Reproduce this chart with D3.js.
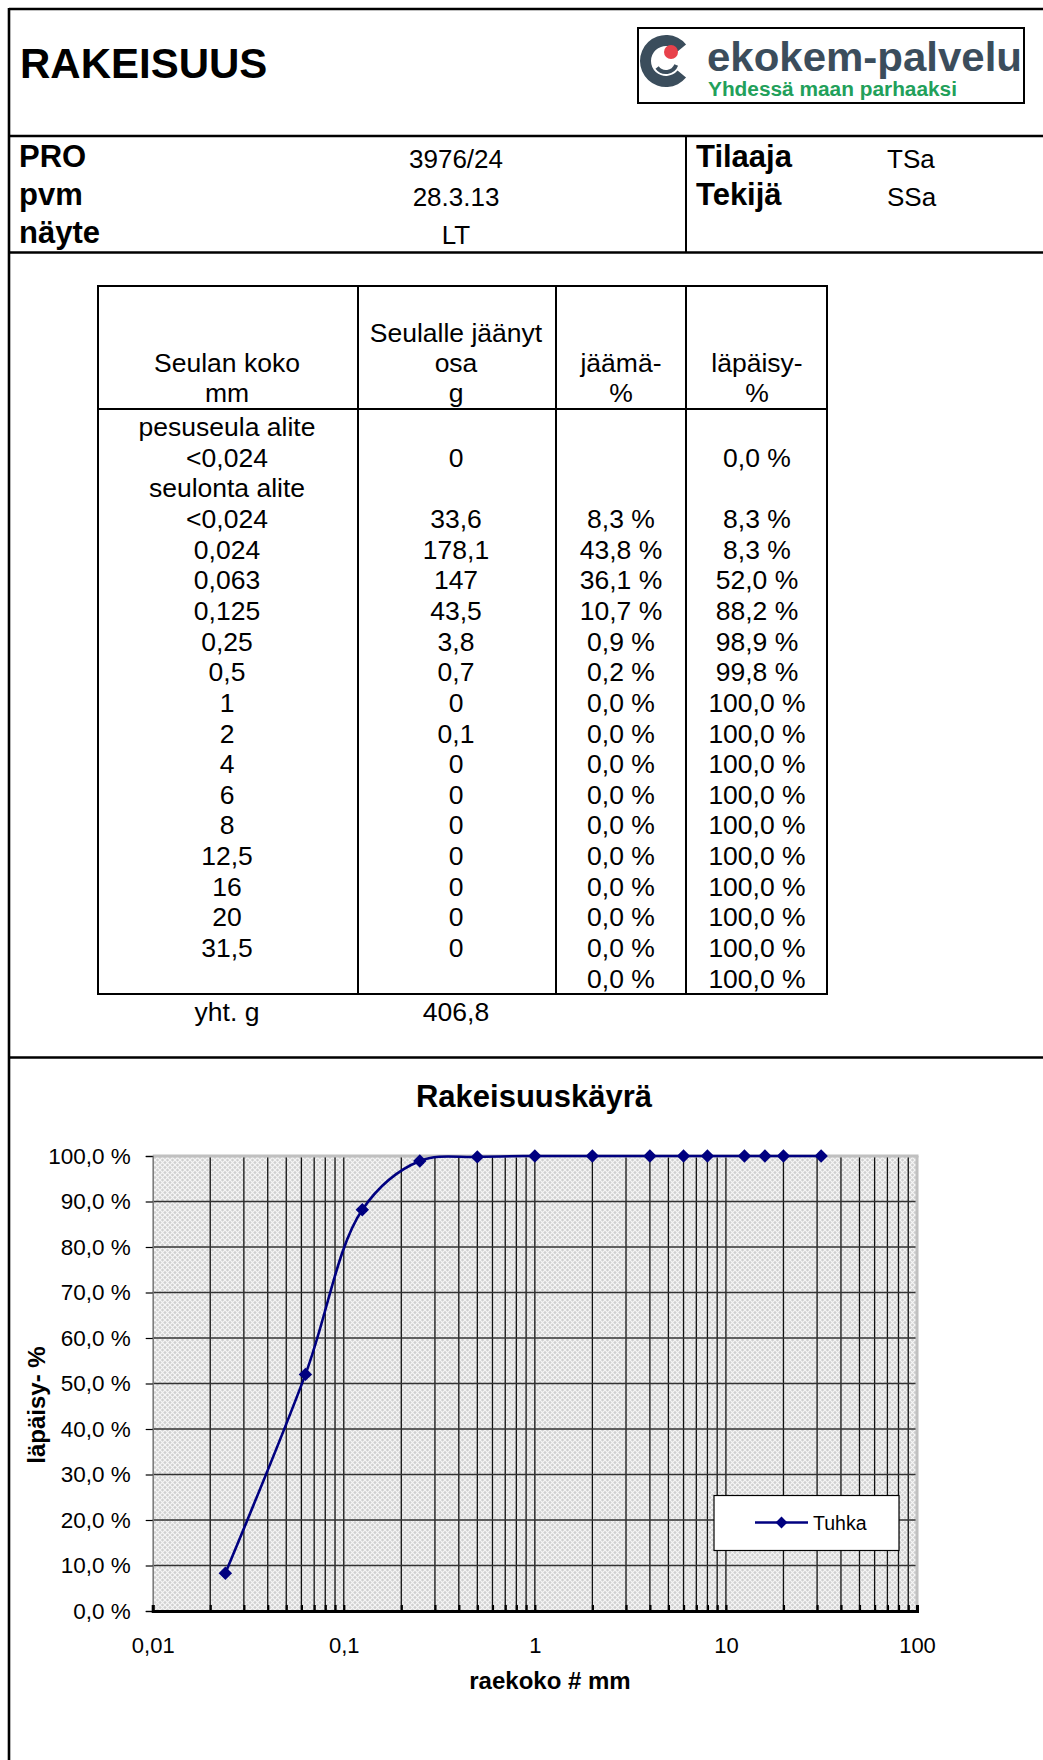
<!DOCTYPE html>
<html>
<head>
<meta charset="utf-8">
<script src="https://cdn.jsdelivr.net/npm/d3@7"></script>
<style>
  html, body { margin: 0; padding: 0; background: #fff; }
  svg { display: block; }
  text { font-family: "Liberation Sans", Arial, sans-serif; fill: #000; }
</style>
</head>
<body>
<svg id="sheet" width="1043" height="1760"></svg>
<script>
// ---- Sheet data ----
const projectInfo = [["PRO", "3976/24"], ["pvm", "28.3.13"], ["näyte", "LT"]];
const staffInfo = [["Tilaaja", "TSa"], ["Tekijä", "SSa"]];

// wash sieve row
const washLabel = "<0,024";
const washRetainedG = 0;
const washPassing = 0.0;

// sieving rows
const sieveLabels = ["<0,024", "0,024", "0,063", "0,125", "0,25", "0,5", "1", "2", "4", "6", "8", "12,5", "16", "20", "31,5"];
const sieveSizes  = [null, 0.024, 0.063, 0.125, 0.25, 0.5, 1, 2, 4, 6, 8, 12.5, 16, 20, 31.5];
const retainedG   = [33.6, 178.1, 147, 43.5, 3.8, 0.7, 0, 0.1, 0, 0, 0, 0, 0, 0, 0];
const retainedPct = [8.3, 43.8, 36.1, 10.7, 0.9, 0.2, 0, 0, 0, 0, 0, 0, 0, 0, 0];
const passingPct  = [8.3, 8.3, 52.0, 88.2, 98.9, 99.8, 100, 100, 100, 100, 100, 100, 100, 100, 100];
const closingRetainedPct = 0.0;
const closingPassing = 100.0;
const totalG = 406.8;

// chart axes
const yTicks = [0, 10, 20, 30, 40, 50, 60, 70, 80, 90, 100];
const xTicks = [0.01, 0.1, 1, 10, 100];
const seriesName = "Tuhka";

// ---- helpers ----
const fmtNum = v => String(v).replace(".", ",");
const fmtPct = v => v.toFixed(1).replace(".", ",") + " %";

const svg = d3.select("#sheet");
const FONT = "'Liberation Sans', Arial, sans-serif";

// ---- page frame ----
const frame = svg.append("g").attr("stroke", "#000").attr("stroke-width", 2.6);
frame.append("line").attr("x1", 9).attr("x2", 1043).attr("y1", 9).attr("y2", 9);
frame.append("line").attr("x1", 9).attr("x2", 9).attr("y1", 8).attr("y2", 1760);
frame.append("line").attr("x1", 9).attr("x2", 1043).attr("y1", 136).attr("y2", 136);
frame.append("line").attr("x1", 9).attr("x2", 1043).attr("y1", 252.5).attr("y2", 252.5);
frame.append("line").attr("x1", 9).attr("x2", 1043).attr("y1", 1057.5).attr("y2", 1057.5);
frame.append("line").attr("x1", 686).attr("x2", 686).attr("y1", 136).attr("y2", 252.5).attr("stroke-width", 2);

// title
svg.append("text").attr("x", 20).attr("y", 78)
  .attr("font-size", 42).attr("font-weight", "bold").text("RAKEISUUS");

// logo
const logo = svg.append("g");
logo.append("rect").attr("x", 638).attr("y", 28).attr("width", 386).attr("height", 75)
  .attr("fill", "#fff").attr("stroke", "#000").attr("stroke-width", 2);
const arc = d3.arc();
logo.append("path")
  .attr("transform", "translate(666,61)")
  .attr("d", arc({innerRadius: 15, outerRadius: 26, startAngle: Math.PI * 0.72, endAngle: Math.PI * 2.28}))
  .attr("fill", "#3b4d5c");
logo.append("path")
  .attr("transform", "translate(666,61)")
  .attr("d", arc({innerRadius: 9, outerRadius: 13, startAngle: Math.PI * 0.62, endAngle: Math.PI * 1.3}))
  .attr("fill", "#3b4d5c");
logo.append("circle").attr("cx", 671).attr("cy", 52).attr("r", 7).attr("fill", "#e8414b");
logo.append("text").attr("x", 707).attr("y", 71)
  .attr("font-family", "'Open Sans', sans-serif").attr("font-weight", 600)
  .attr("font-size", 40).attr("textLength", 315).attr("lengthAdjust", "spacingAndGlyphs")
  .style("fill", "#3b4d5c").text("ekokem-palvelu");
logo.append("text").attr("x", 708).attr("y", 96)
  .attr("font-family", "'Open Sans', sans-serif").attr("font-weight", 600)
  .attr("font-size", 20).attr("textLength", 249).attr("lengthAdjust", "spacingAndGlyphs")
  .style("fill", "#22a05a").text("Yhdessä maan parhaaksi");

// project info
const infoY = [167, 205, 243];
projectInfo.forEach(([k, v], i) => {
  svg.append("text").attr("x", 19).attr("y", infoY[i]).attr("font-size", 31).attr("font-weight", "bold").text(k);
  svg.append("text").attr("x", 456).attr("y", infoY[i] + 1).attr("font-size", 26).attr("text-anchor", "middle").text(v);
});
staffInfo.forEach(([k, v], i) => {
  svg.append("text").attr("x", 696).attr("y", infoY[i]).attr("font-size", 31).attr("font-weight", "bold").text(k);
  svg.append("text").attr("x", 887).attr("y", infoY[i] + 1).attr("font-size", 26).text(v);
});

// ---- sieve table ----
const T = {left: 98, right: 827, top: 286, headBottom: 409, bottom: 994};
const colX = [98, 358, 556, 686, 827];
const colCenter = [227, 456, 621, 757];
const TF = 26.5;
const tbl = svg.append("g");
tbl.append("rect").attr("x", T.left).attr("y", T.top).attr("width", T.right - T.left).attr("height", T.bottom - T.top)
  .attr("fill", "none").attr("stroke", "#000").attr("stroke-width", 2);
tbl.append("line").attr("x1", T.left).attr("x2", T.right).attr("y1", T.headBottom).attr("y2", T.headBottom)
  .attr("stroke", "#000").attr("stroke-width", 2);
colX.slice(1, 4).forEach(x => tbl.append("line").attr("x1", x).attr("x2", x).attr("y1", T.top).attr("y2", T.bottom)
  .attr("stroke", "#000").attr("stroke-width", 2));

const headerLines = [
  [[], ["Seulan koko", "mm"]],
  [["Seulalle jäänyt"], ["osa", "g"]],
  [[], ["jäämä-", "%"]],
  [[], ["läpäisy-", "%"]]
];
const headY = [342, 372, 402];
headerLines.forEach(([top, rest], c) => {
  const lines = top.concat(rest);
  const start = 3 - lines.length;
  lines.forEach((s, j) => tbl.append("text").attr("x", colCenter[c]).attr("y", headY[start + j])
    .attr("font-size", TF).attr("text-anchor", "middle").text(s));
});

// body rows
const rows = [];
rows.push(["pesuseula alite", "", "", ""]);
rows.push([washLabel, fmtNum(washRetainedG), "", fmtPct(washPassing)]);
rows.push(["seulonta alite", "", "", ""]);
sieveLabels.forEach((lab, i) => rows.push([lab, fmtNum(retainedG[i]), fmtPct(retainedPct[i]), fmtPct(passingPct[i])]));
rows.push(["", "", fmtPct(closingRetainedPct), fmtPct(closingPassing)]);

const rowY0 = 436, rowPitch = 30.65;
rows.forEach((r, i) => {
  r.forEach((s, c) => {
    if (!s) return;
    tbl.append("text").attr("x", colCenter[c]).attr("y", rowY0 + i * rowPitch)
      .attr("font-size", TF).attr("text-anchor", "middle").text(s);
  });
});
tbl.append("text").attr("x", colCenter[0]).attr("y", 1021).attr("font-size", TF).attr("text-anchor", "middle").text("yht. g");
tbl.append("text").attr("x", colCenter[1]).attr("y", 1021).attr("font-size", TF).attr("text-anchor", "middle").text(fmtNum(totalG));

// ---- grading curve ----
const P = {left: 152.7, right: 917, top: 1156, bottom: 1611};
const x = d3.scaleLog().domain([0.01, 100]).range([P.left, P.right]);
const y = d3.scaleLinear().domain([0, 100]).range([P.bottom, P.top]);

svg.append("text").attr("x", 534).attr("y", 1107).attr("font-size", 31).attr("font-weight", "bold")
  .attr("text-anchor", "middle").text("Rakeisuuskäyrä");

// crosshatch fill of the plot area
const defs = svg.append("defs");
const pat = defs.append("pattern").attr("id", "hatch").attr("patternUnits", "userSpaceOnUse")
  .attr("width", 5).attr("height", 5);
pat.append("rect").attr("width", 5).attr("height", 5).attr("fill", "#d0d0d0");
pat.append("path").attr("d", "M0,0 L5,5 M5,0 L0,5").attr("stroke", "#f6f6f6").attr("stroke-width", 1.2);

svg.append("rect").attr("x", P.left).attr("y", P.top).attr("width", P.right - P.left).attr("height", P.bottom - P.top)
  .attr("fill", "url(#hatch)");

// minor log values (1..9 per decade)
const minorVals = [];
[0.01, 0.1, 1, 10].forEach(d => { for (let k = 1; k <= 9; k++) minorVals.push(+(d * k).toPrecision(3)); });
const innerVals = minorVals.filter(v => v > 0.01 && v < 100);

const grid = svg.append("g");
grid.selectAll("line.v").data(innerVals).join("line")
  .attr("x1", d => x(d)).attr("x2", d => x(d)).attr("y1", P.top).attr("y2", P.bottom)
  .attr("stroke", "#111").attr("stroke-width", 1.3);
grid.selectAll("line.h").data(yTicks.filter(v => v > 0 && v < 100)).join("line")
  .attr("x1", P.left).attr("x2", P.right).attr("y1", d => y(d)).attr("y2", d => y(d))
  .attr("stroke", "#333").attr("stroke-width", 1.6);

// plot frame: light top/right edges
grid.append("line").attr("x1", P.left).attr("x2", P.right + 1.5).attr("y1", P.top).attr("y2", P.top)
  .attr("stroke", "#c0c0c0").attr("stroke-width", 3);
grid.append("line").attr("x1", P.right).attr("x2", P.right).attr("y1", P.top).attr("y2", P.bottom)
  .attr("stroke", "#c0c0c0").attr("stroke-width", 3);

// y axis
const yAxis = svg.append("g").attr("transform", `translate(${P.left},0)`)
  .call(d3.axisLeft(y).tickValues(yTicks).tickSize(7).tickPadding(15).tickFormat(fmtPct));
yAxis.select(".domain").attr("stroke", "#777").attr("stroke-width", 1.5);
yAxis.selectAll(".tick line").attr("stroke", "#000").attr("stroke-width", 1.2);
yAxis.selectAll("text").attr("font-family", FONT).attr("font-size", 22.5).attr("fill", "#000");

// x axis: inner minor ticks + decade labels
const xMinor = svg.append("g").attr("transform", `translate(0,${P.bottom})`)
  .call(d3.axisBottom(x).tickValues(minorVals.concat([100])).tickSize(-6).tickFormat(""));
xMinor.select(".domain").attr("stroke", "#000").attr("stroke-width", 3);
xMinor.selectAll(".tick line").attr("stroke", "#000").attr("stroke-width", 2.2);

const xAxis = svg.append("g").attr("transform", `translate(0,${P.bottom})`)
  .call(d3.axisBottom(x).tickValues(xTicks).tickSize(0).tickPadding(26).tickFormat(fmtNum));
xAxis.select(".domain").remove();
xAxis.selectAll("text").attr("font-family", FONT).attr("font-size", 22).attr("fill", "#000");

// axis titles
svg.append("text").attr("x", 550).attr("y", 1689).attr("font-size", 24).attr("font-weight", "bold")
  .attr("text-anchor", "middle").text("raekoko # mm");
svg.append("text").attr("transform", "translate(45,1405) rotate(-90)").attr("font-size", 24)
  .attr("font-weight", "bold").attr("text-anchor", "middle").text("läpäisy- %");

// series
const points = sieveSizes.map((s, i) => ({size: s, pass: passingPct[i]})).filter(d => d.size !== null);
const line = d3.line().x(d => x(d.size)).y(d => y(d.pass)).curve(d3.curveCatmullRom.alpha(0.5));
svg.append("path").datum(points).attr("d", line)
  .attr("fill", "none").attr("stroke", "#000080").attr("stroke-width", 2.6);
const diamond = d3.symbol(d3.symbolSquare, 90);
svg.selectAll("path.pt").data(points).join("path")
  .attr("transform", d => `translate(${x(d.size)},${y(d.pass)}) rotate(45)`)
  .attr("d", diamond).attr("fill", "#000080");

// legend
const lg = svg.append("g");
lg.append("rect").attr("x", 714).attr("y", 1495.5).attr("width", 185).attr("height", 55)
  .attr("fill", "#fff").attr("stroke", "#000").attr("stroke-width", 1.2);
lg.append("line").attr("x1", 755).attr("x2", 808).attr("y1", 1522.5).attr("y2", 1522.5)
  .attr("stroke", "#000080").attr("stroke-width", 2.6);
lg.append("path").attr("transform", "translate(781.5,1522.5) rotate(45)")
  .attr("d", d3.symbol(d3.symbolSquare, 70)).attr("fill", "#000080");
lg.append("text").attr("x", 813).attr("y", 1529.5).attr("font-size", 19.5).text(seriesName);
</script>
</body>
</html>
